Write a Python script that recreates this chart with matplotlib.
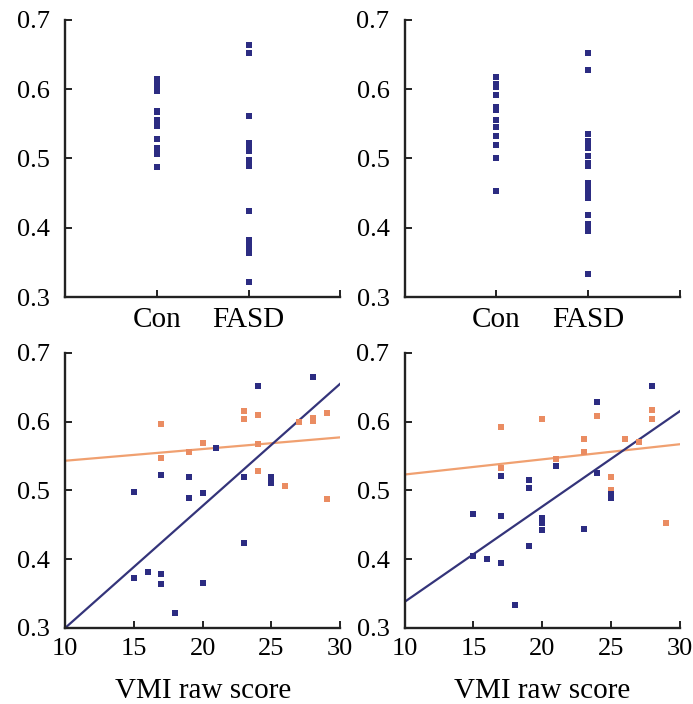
import numpy as np
import matplotlib
matplotlib.use("Agg")
import matplotlib.pyplot as plt

plt.rcParams["font.family"] = ["Liberation Serif", "DejaVu Serif"]
plt.rcParams["font.size"] = 19

# VMI raw score and measure, left pair of panels
left_con_vmi = [17, 17, 19, 20, 23, 23, 24, 24, 24, 25, 26, 27, 28, 28, 29, 29]
left_con_val = [0.597, 0.547, 0.556, 0.569, 0.615, 0.603, 0.610, 0.567, 0.528,
                0.515, 0.506, 0.600, 0.605, 0.601, 0.613, 0.487]
left_fasd_vmi = [15, 15, 16, 17, 17, 17, 18, 19, 19, 20, 20, 21, 23, 23, 24,
                 25, 25, 28]
left_fasd_val = [0.498, 0.373, 0.382, 0.522, 0.378, 0.364, 0.322, 0.519, 0.489,
                 0.496, 0.365, 0.561, 0.520, 0.424, 0.652, 0.520, 0.510, 0.664]

# right pair of panels
right_con_vmi = [17, 17, 20, 21, 23, 23, 24, 25, 25, 26, 27, 28, 28, 29]
right_con_val = [0.592, 0.533, 0.603, 0.545, 0.574, 0.555, 0.608, 0.520, 0.500,
                 0.574, 0.570, 0.617, 0.603, 0.453]
right_fasd_vmi = [15, 15, 16, 17, 17, 17, 18, 19, 19, 19, 20, 20, 20, 21, 23,
                  24, 24, 25, 25, 28]
right_fasd_val = [0.465, 0.405, 0.400, 0.462, 0.395, 0.521, 0.334, 0.419, 0.515,
                  0.503, 0.460, 0.453, 0.443, 0.535, 0.444, 0.628, 0.525, 0.494,
                  0.489, 0.652]

# fitted lines: value at VMI 10 and at VMI 30
left_con_fit = [0.543, 0.577]
left_fasd_fit = [0.300, 0.655]
right_con_fit = [0.523, 0.567]
right_fasd_fit = [0.338, 0.615]

groups = ["Con", "FASD"]
navy = "#2c2c82"
orange = "#ea8c62"


def style_axes(ax):
    for side in ["top", "right"]:
        ax.spines[side].set_visible(False)
    for side in ["left", "bottom"]:
        ax.spines[side].set_linewidth(1.7)
        ax.spines[side].set_color("#222222")
    ax.tick_params(direction="in", length=5, width=1.4, color="#222222")
    ax.tick_params(axis="x", pad=7)
    ax.tick_params(axis="y", pad=11)
    ax.set_ylim(0.3, 0.7)
    ax.set_yticks([0.3, 0.4, 0.5, 0.6, 0.7])
    ax.set_yticklabels(["0.3", "0.4", "0.5", "0.6", "0.7"])


def strip_panel(ax, con, fasd):
    ax.plot(np.ones(len(con)), con, "s", color=navy, ms=4.2, mew=0)
    ax.plot(np.full(len(fasd), 2), fasd, "s", color=navy, ms=4.2, mew=0)
    ax.set_xlim(0, 3)
    ax.set_xticks([0, 1, 2, 3])
    ax.set_xticklabels([""] + groups + [""], fontsize=21)
    style_axes(ax)


def scatter_panel(ax, cx, cy, fx, fy, cfit, ffit):
    xs = np.array([10, 30])
    ax.plot(xs, cfit, color="#f0a070", lw=1.6)
    ax.plot(xs, ffit, color="#34347a", lw=1.6)
    ax.plot(cx, cy, "s", color=orange, ms=4.2, mew=0)
    ax.plot(fx, fy, "s", color=navy, ms=4.2, mew=0)
    ax.set_xlim(10, 30)
    ax.set_xticks([10, 15, 20, 25, 30])
    ax.set_xlabel("VMI raw score", fontsize=21)
    ax.xaxis.set_label_coords(0.5, -0.18)
    style_axes(ax)


fig = plt.figure(figsize=(6.93, 7.04), dpi=100)
w = 0.397
ax1 = fig.add_axes([0.094, 0.578, w, 0.394])
ax2 = fig.add_axes([0.584, 0.578, w, 0.394])
ax3 = fig.add_axes([0.094, 0.108, w, 0.391])
ax4 = fig.add_axes([0.584, 0.108, w, 0.391])

strip_panel(ax1, left_con_val, left_fasd_val)
strip_panel(ax2, right_con_val, right_fasd_val)
scatter_panel(ax3, left_con_vmi, left_con_val, left_fasd_vmi, left_fasd_val,
              left_con_fit, left_fasd_fit)
scatter_panel(ax4, right_con_vmi, right_con_val, right_fasd_vmi, right_fasd_val,
              right_con_fit, right_fasd_fit)

fig.savefig("out.png", dpi=100)
